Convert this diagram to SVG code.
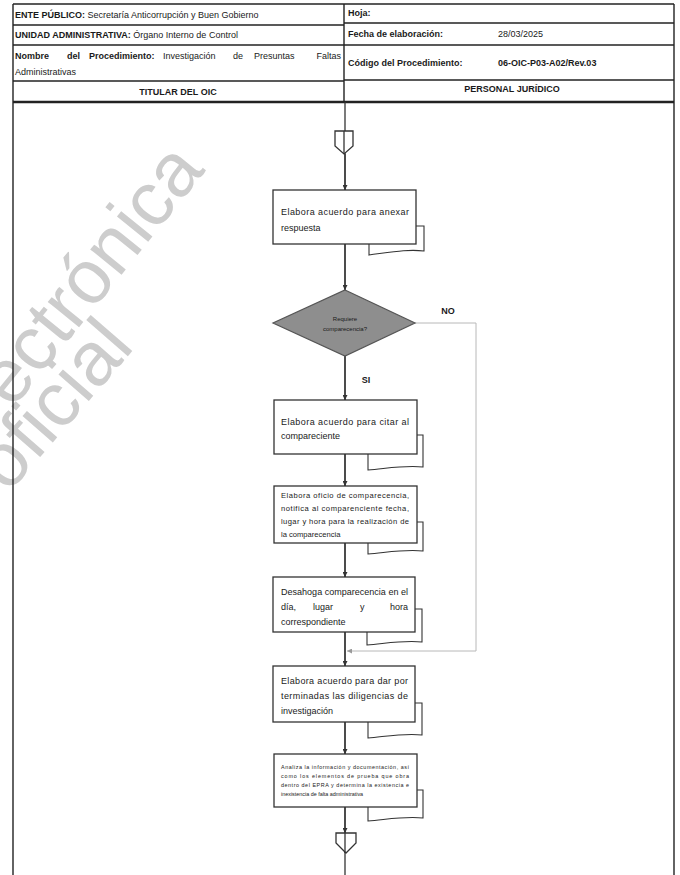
<svg xmlns="http://www.w3.org/2000/svg" width="680" height="875" viewBox="0 0 680 875">
  <style>
    .t { font-family: "Liberation Sans", Arial, sans-serif; fill: #1a1a1a; }
    .hd { font-size: 9px; }
    .b { font-weight: bold; }
    .bx { font-size: 9px; }
    .sm { font-size: 7.6px; }
    .xs { font-size: 5.4px; }
    .grid { stroke: #222; stroke-width: 1.4; fill: none; }
    .box { fill: #fff; stroke: #333; stroke-width: 1.3; }
    .tail { fill: #fff; stroke: #333; stroke-width: 1.1; }
    .flow { stroke: #333; stroke-width: 1.3; fill: none; }
    .loop { stroke: #b8b8b8; stroke-width: 1; fill: none; }
    .wm { font-family: "Liberation Sans", Arial, sans-serif; font-size: 76px; fill: #cdcdcd; }
  </style>
  <defs>
    <marker id="arr" viewBox="0 0 10 10" refX="10" refY="5" markerWidth="5" markerHeight="5" orient="auto" markerUnits="userSpaceOnUse">
      <path d="M0,0 L10,5 L0,10 z" fill="#333"/>
    </marker>
    <marker id="arrL" viewBox="0 0 10 10" refX="10" refY="5" markerWidth="5" markerHeight="5" orient="auto" markerUnits="userSpaceOnUse">
      <path d="M0,0 L10,5 L0,10 z" fill="#999"/>
    </marker>
  </defs>

  <rect width="680" height="875" fill="#fff"/>

  <!-- watermark -->
  <g id="watermark">
    <text class="wm" transform="translate(12,410) rotate(-51)">ectrónica</text>
    <text class="wm" transform="translate(8,494) rotate(-49)">oficial</text>
  </g>

  <!-- header table -->
  <g id="header">
    <line class="grid" x1="13" y1="4" x2="674" y2="4"/>
    <line class="grid" x1="13" y1="4" x2="13" y2="875"/>
    <line class="grid" x1="674" y1="4" x2="674" y2="875"/>
    <line class="grid" x1="344" y1="4" x2="344" y2="101"/>
    <line class="grid" x1="13" y1="25" x2="344" y2="25"/>
    <line class="grid" x1="13" y1="45" x2="344" y2="45"/>
    <line class="grid" x1="13" y1="81" x2="344" y2="81"/>
    <line class="grid" x1="344" y1="23" x2="674" y2="23"/>
    <line class="grid" x1="344" y1="45" x2="674" y2="45"/>
    <line class="grid" x1="344" y1="80" x2="674" y2="80"/>
    <line x1="13" y1="102" x2="674" y2="102" stroke="#222" stroke-width="2.6"/>

    <text class="t hd" x="15" y="18"><tspan class="b">ENTE PÚBLICO:</tspan> Secretaría Anticorrupción y Buen Gobierno</text>
    <text class="t hd" x="15" y="38"><tspan class="b">UNIDAD ADMINISTRATIVA:</tspan> Órgano Interno de Control</text>
    <text class="t hd b" x="15" y="59">Nombre</text>
    <text class="t hd b" x="67" y="59">del</text>
    <text class="t hd b" x="89" y="59">Procedimiento:</text>
    <text class="t hd" x="163" y="59">Investigación</text>
    <text class="t hd" x="233" y="59">de</text>
    <text class="t hd" x="254" y="59">Presuntas</text>
    <text class="t hd" x="341" y="59" text-anchor="end">Faltas</text>
    <text class="t hd" x="15" y="75">Administrativas</text>
    <text class="t hd b" x="178" y="95" text-anchor="middle">TITULAR DEL OIC</text>

    <text class="t hd b" x="348" y="16">Hoja:</text>
    <text class="t hd b" x="348" y="37">Fecha de elaboración:</text>
    <text class="t hd" x="498" y="37">28/03/2025</text>
    <text class="t hd b" x="348" y="66">Código del Procedimiento:</text>
    <text class="t hd b" x="498" y="66">06-OIC-P03-A02/Rev.03</text>
    <text class="t hd b" x="512" y="92" text-anchor="middle">PERSONAL JURÍDICO</text>
  </g>

  <!-- connectors -->
  <g id="connectors">
    <line class="flow" x1="345" y1="102" x2="345" y2="875"/>
    <line class="flow" x1="345" y1="154" x2="345" y2="190" marker-end="url(#arr)"/>
    <line class="flow" x1="345" y1="244" x2="345" y2="290" marker-end="url(#arr)"/>
    <line class="flow" x1="345" y1="356" x2="345" y2="400" marker-end="url(#arr)"/>
    <line class="flow" x1="345" y1="454" x2="345" y2="486" marker-end="url(#arr)"/>
    <line class="flow" x1="345" y1="543" x2="345" y2="577" marker-end="url(#arr)"/>
    <line class="flow" x1="345" y1="632" x2="345" y2="666" marker-end="url(#arr)"/>
    <line class="flow" x1="345" y1="722" x2="345" y2="754" marker-end="url(#arr)"/>
    <line class="flow" x1="345" y1="807" x2="345" y2="833" marker-end="url(#arr)"/>
    <polyline class="loop" points="415,323 476,323 476,651 347,651" marker-end="url(#arrL)"/>
    <text class="t b" x="448" y="314" font-size="9" text-anchor="middle">NO</text>
    <text class="t b" x="366" y="383" font-size="9" text-anchor="middle">SI</text>
  </g>

  <!-- off-page connector (top) -->
  <g id="conn-top">
    <path class="box" d="M335,131 H353 V146 L344,154 L335,146 Z"/>
    <line class="flow" x1="344" y1="131" x2="344" y2="154"/>
  </g>

  <g id="n1">
    <path class="tail" d="M415,226 H424 V251 C408,249 392,252 369,255 V244"/>
    <rect class="box" x="273" y="190" width="143" height="54"/>
    <text class="t bx" x="281" y="215" textLength="128" lengthAdjust="spacing">Elabora acuerdo para anexar</text>
    <text class="t bx" x="281" y="231">respuesta</text>
  </g>

  <g id="decision">
    <polygon points="345,290 415,323 345,356 273,323" fill="#8e8e8e" stroke="#555" stroke-width="1.2"/>
    <text class="t" x="345" y="321" font-size="6" text-anchor="middle">Requiere</text>
    <text class="t" x="345" y="331" font-size="6" text-anchor="middle">comparecencia?</text>
  </g>

  <g id="n2">
    <path class="tail" d="M416,435 H423 V467 C406,465 390,468 368,470 V454"/>
    <rect class="box" x="274" y="400" width="143" height="54"/>
    <text class="t bx" x="281" y="425" textLength="128" lengthAdjust="spacing">Elabora acuerdo para citar al</text>
    <text class="t bx" x="281" y="439">compareciente</text>
  </g>

  <g id="n3">
    <path class="tail" d="M416,522 H423 V551 C406,549 390,552 368,554 V543"/>
    <rect class="box" x="274" y="486" width="143" height="57"/>
    <text class="t sm" x="281" y="498" textLength="128" lengthAdjust="spacing">Elabora oficio de comparecencia,</text>
    <text class="t sm" x="281" y="511" textLength="128" lengthAdjust="spacing">notifica al comparenciente fecha,</text>
    <text class="t sm" x="281" y="524" textLength="128" lengthAdjust="spacing">lugar y hora para la realización de</text>
    <text class="t sm" x="281" y="537">la comparecencia</text>
  </g>

  <g id="n4">
    <path class="tail" d="M415,609 H422 V642 C405,640 389,643 367,645 V632"/>
    <rect class="box" x="273" y="577" width="142" height="55"/>
    <text class="t bx" x="281" y="595" textLength="127" lengthAdjust="spacing">Desahoga comparecencia en el</text>
    <text class="t bx" x="281" y="610">día,</text>
    <text class="t bx" x="313" y="610">lugar</text>
    <text class="t bx" x="360" y="610">y</text>
    <text class="t bx" x="408" y="610" text-anchor="end">hora</text>
    <text class="t bx" x="281" y="625">correspondiente</text>
  </g>

  <g id="n5">
    <path class="tail" d="M415,703 H422 V735 C405,733 389,736 368,738 V722"/>
    <rect class="box" x="273" y="666" width="142" height="56"/>
    <text class="t bx" x="281" y="684" textLength="127" lengthAdjust="spacing">Elabora acuerdo para dar por</text>
    <text class="t bx" x="281" y="699" textLength="127" lengthAdjust="spacing">terminadas las diligencias de</text>
    <text class="t bx" x="281" y="714">investigación</text>
  </g>

  <g id="n6">
    <path class="tail" d="M416,790 H423 V818 C406,816 390,819 368,821 V807"/>
    <rect class="box" x="274" y="754" width="143" height="53"/>
    <text class="t xs" x="281" y="769" textLength="128" lengthAdjust="spacing">Analiza la información y documentación, así</text>
    <text class="t xs" x="281" y="778" textLength="128" lengthAdjust="spacing">como los elementos de prueba que obra</text>
    <text class="t xs" x="281" y="787" textLength="128" lengthAdjust="spacing">dentro del EPRA y determina la existencia e</text>
    <text class="t xs" x="281" y="796">inexistencia de falta administrativa</text>
  </g>

  <!-- off-page connector (bottom) -->
  <g id="conn-bottom">
    <path class="box" d="M336,833 H356 V843 L346,853 L336,843 Z"/>
    <line class="flow" x1="345" y1="833" x2="345" y2="853"/>
  </g>
</svg>
